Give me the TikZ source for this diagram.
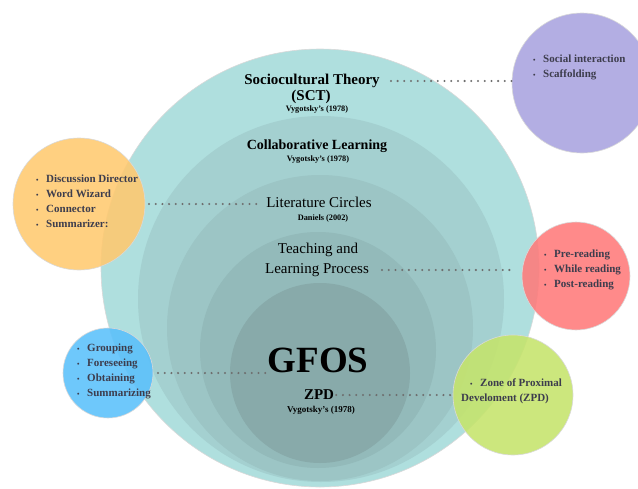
\documentclass[tikz,border=0pt]{standalone}
\usepackage{fontspec}
\setmainfont{Liberation Serif}
\usetikzlibrary{positioning}
\definecolor{ringA}{HTML}{AFDFDE}
\definecolor{ringB}{HTML}{A4D0D0}
\definecolor{ringC}{HTML}{9CC5C5}
\definecolor{ringD}{HTML}{93BABA}
\definecolor{ringE}{HTML}{88AAAA}
\definecolor{lilac}{HTML}{A9A3DF}
\definecolor{amber}{HTML}{FFC96F}
\definecolor{coral}{HTML}{FF7A7A}
\definecolor{sky}{HTML}{5AC0FB}
\definecolor{lime}{HTML}{C5E46B}
\definecolor{satink}{HTML}{3D3D4D}
\definecolor{dotgray}{HTML}{6E6E6E}
\newcommand{\itm}[1]{\makebox[10pt][l]{\fontsize{7}{7}\selectfont\textbullet}#1}

\begin{document}
\begin{tikzpicture}[x=1pt, y=-1pt,
  ring/.style={circle, inner sep=0pt, outer sep=0pt},
  sat/.style={circle, inner sep=0pt, outer sep=0pt, draw=black!15, line width=0.6pt, fill opacity=0.88},
  lst/.style={align=left, anchor=west, inner sep=0pt, text=satink,
    font=\bfseries\fontsize{11}{15}\selectfont},
  head/.style={inner sep=1pt, font=\bfseries\fontsize{15}{17}\selectfont},
  plain/.style={inner sep=1pt, font=\fontsize{15}{17}\selectfont},
  src/.style={inner sep=0pt, font=\bfseries\fontsize{8.3}{10}\selectfont},
  dots/.style={draw=dotgray, line width=2.3pt, line cap=round, dash pattern=on 0pt off 6.7pt}
]
\clip (0,0) rectangle (638,488);

% nested rings
\node[ring, fill=ringA, draw=black!15, line width=0.6pt, minimum size=438pt] (r1) at (320,268) {};
\node[ring, fill=ringB, minimum size=366pt] (r2) at (321,299) {};
\node[ring, fill=ringC, minimum size=306pt] (r3) at (320,328) {};
\node[ring, fill=ringD, minimum size=236pt] (r4) at (318,350) {};
\node[ring, fill=ringE, minimum size=180pt] (r5) at (320,373) {};

% side circles
\node[sat, fill=lilac, minimum size=140pt] (purple) at (582,83) {};
\node[sat, fill=amber, minimum size=132pt] (orange) at (79,204) {};
\node[sat, fill=coral, minimum size=108pt] (red) at (576,276) {};
\node[sat, fill=sky, minimum size=90pt] (blue) at (108,373) {};
\node[sat, fill=lime, minimum size=120pt] (green) at (513,395) {};

% ring labels
\node[head] (sct) at (312,81) {Sociocultural Theory};
\node[head] (sctb) at (311,97) {(SCT)};
\node[src] (vygA) at (317,110) {Vygotsky's (1978)};
\node[head, font=\bfseries\fontsize{14}{16}\selectfont] (collab) at (317,146) {Collaborative Learning};
\node[src] (vygB) at (318,160) {Vygotsky's (1978)};
\node[plain] (lit) at (319,202) {Literature Circles};
\node[src] (daniels) at (323,218) {Daniels (2002)};
\node[plain] (teach) at (318,250) {Teaching and};
\node[plain] (learn) at (317,270) {Learning Process};
\node[inner sep=1pt, font=\bfseries\fontsize{37}{40}\selectfont] (gfos) at (318,360) {GFOS};
\node[head] (zpd) at (319,395) {ZPD};
\node[src, font=\bfseries\fontsize{9}{10}\selectfont] (vygC) at (321,410) {Vygotsky's (1978)};

% lists in the side circles
\node[lst] (socl) at (533,67.5) {\itm{Social interaction}\\\itm{Scaffolding}};
\node[lst] (rolel) at (36,201) {\itm{Discussion Director}\\\itm{Word Wizard}\\\itm{Connector}\\\itm{Summarizer:}};
\node[lst] (readl) at (544,270) {\itm{Pre-reading}\\\itm{While reading}\\\itm{Post-reading}};
\node[lst] (gfosl) at (77,371) {\itm{Grouping}\\\itm{Foreseeing}\\\itm{Obtaining}\\\itm{Summarizing}};
\node[lst] (zonel) at (461,391) {\hspace*{9pt}\itm{Zone of Proximal}\\Develoment (ZPD)};

% dotted links
\draw[dots, shorten <=10pt] (sct.east) -- (sct.east -| purple.west);
\draw[dots, shorten <=4pt, shorten >=8pt] (orange.east) -- (orange.east -| lit.west);
\draw[dots, shorten <=12pt, shorten >=9pt] (learn.east) -- (learn.east -| red.west);
\draw[dots, shorten <=5pt] (blue.east) -- (blue.east -| gfos.west);
\draw[dots, shorten <=1pt, shorten >=7pt] (zpd.east) -- (zpd.east -| zonel.west);
\end{tikzpicture}
\end{document}
